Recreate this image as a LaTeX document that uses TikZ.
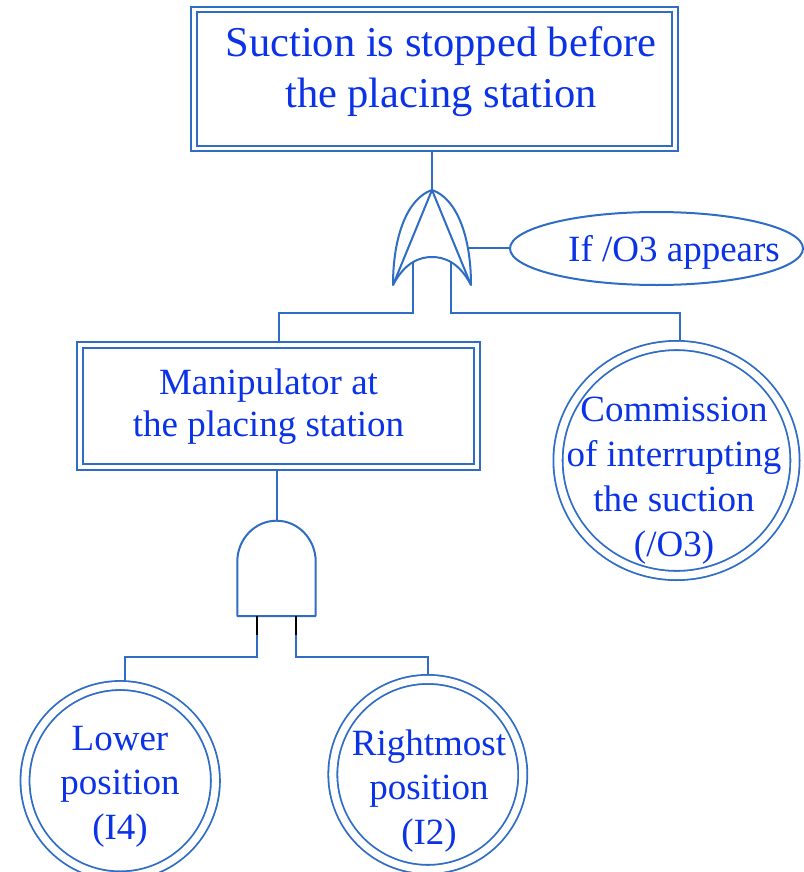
\documentclass[tikz,border=0pt]{standalone}
\usepackage{fontspec}
\setmainfont{Liberation Serif}
\usetikzlibrary{shapes.geometric}
\definecolor{lc}{RGB}{46,108,197}
\definecolor{tc}{RGB}{10,50,230}
\newcommand\mlines[1]{\begin{tabular}[t]{@{}c@{}}#1\end{tabular}}
\tikzset{
  conn/.style={draw=lc, line width=2pt},
  legblack/.style={draw=black, line width=2pt},
  gate/.style={draw=lc, line width=2pt, line join=round},
  dbox/.style={rectangle, draw=lc, double=white, line width=2.2pt, double distance=3.4pt, inner sep=0pt, outer sep=3.5pt},
  dcirc/.style={circle, draw=lc, double=white, line width=1.8pt, double distance=7.2pt, inner sep=0pt, outer sep=4.5pt},
  dell/.style={ellipse, draw=lc, double=white, line width=1.8pt, double distance=7.4pt, inner sep=0pt, outer sep=4.5pt},
  condell/.style={ellipse, draw=lc, line width=2pt, inner sep=0pt, outer sep=0pt},
  txt/.style={text=tc, anchor=base, inner sep=0pt, font=\fontsize{37}{44.6}\selectfont},
}
\begin{document}
\begin{tikzpicture}[x=1pt, y=-1pt]
\useasboundingbox (0,0) rectangle (803,872);

% boxes
\node[dbox, minimum width=481pt, minimum height=139pt] (top) at (434.5,79) {};
\node[txt, font=\fontsize{42.5}{51}\selectfont] (topt) at (441,57) {\mlines{Suction is stopped before\\the placing station}};

\node[dbox, minimum width=397pt, minimum height=122pt] (man) at (278.5,406) {};
\node[txt, font=\fontsize{37}{42.4}\selectfont] (mant) at (268.5,394.3) {\mlines{Manipulator at\\the placing station}};

% condition ellipse
\node[condell, minimum width=293pt, minimum height=73pt] (ell) at (656.5,248.5) {};
\node[txt] (ellt) at (674,261.7) {If /O3 appears};

% basic events
\node[dell, minimum width=237pt, minimum height=230pt] (com) at (676.5,460.5) {};
\node[txt, font=\fontsize{37}{44.8}\selectfont] (comt) at (674,421.7) {\mlines{Commission\\of interrupting\\the suction\\(/O3)}};

\node[dcirc, minimum size=190.4pt] (low) at (120.2,780.7) {};
\node[txt] (lowt) at (120,750) {\mlines{Lower\\position\\(I4)}};

\node[dcirc, minimum size=190pt] (rig) at (427.8,774.4) {};
\node[txt] (rigt) at (429,755) {\mlines{Rightmost\\position\\(I2)}};

% OR (inhibit-style) gate
\coordinate (orA) at (432,190);
\coordinate (orL) at (393,285);
\coordinate (orR) at (471,285);
\coordinate (orLeg1) at (412.7,262.4);
\coordinate (orLeg2) at (451.3,262.4);
\coordinate (orS) at (468,248);
\draw[gate] (orA) .. controls (408,198) and (393,235) .. (orL)
  .. controls (405,262) and (420,257) .. (432,257)
  .. controls (444,257) and (459,262) .. (orR)
  .. controls (471,235) and (456,198) .. (orA) -- cycle;
\draw[gate] (orL) -- (orA) -- (orR);

% AND gate
\coordinate (andT) at (276.5,520.7);
\coordinate (andL) at (257,616);
\coordinate (andR) at (296.3,616);
\draw[gate] (237.3,616) -- (237.3,561.7)
  .. controls (237.3,539.1) and (254.9,520.7) .. (andT)
  .. controls (298.1,520.7) and (315.7,539.1) .. (315.7,561.7)
  -- (315.7,616) -- cycle;

% connectors
\draw[conn] (orA) -- (orA |- top.south);
\draw[conn] (orLeg1) -- ++(0,51) -| (man.north);
\draw[conn] (orLeg2) -- ++(0,51) -| ([xshift=3.5pt]com.north);
\draw[conn] (orS) -- (orS -| ell.west);
\draw[conn] (andT) -- (andT |- man.south);
\draw[legblack] (andL) -- ++(0,19);
\draw[legblack] (andR) -- ++(0,19);
\draw[conn] (andL) ++(0,19) -- ++(0,21.7) -| ([xshift=4.8pt]low.north);
\draw[conn] (andR) ++(0,19) -- ++(0,21.7) -| (rig.north);
\end{tikzpicture}
\end{document}
